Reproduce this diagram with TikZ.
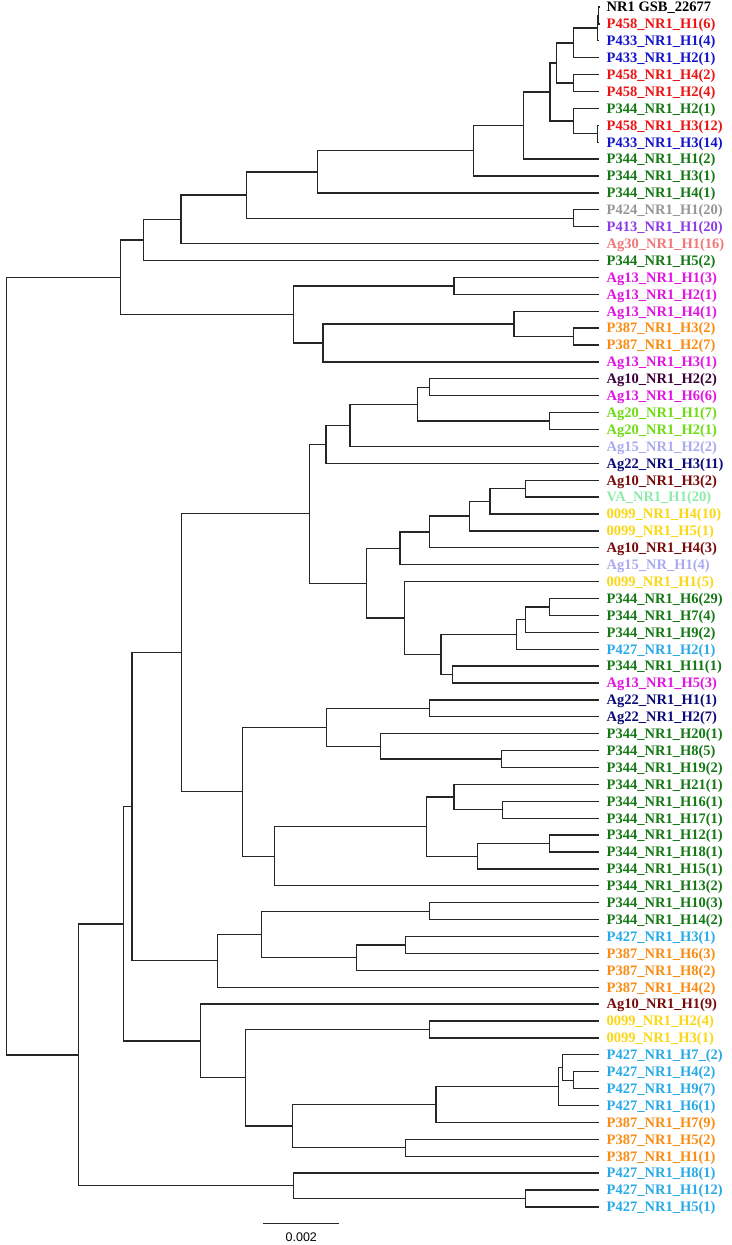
\documentclass[tikz,border=0pt]{standalone}
\usepackage{fontspec}
\setmainfont{Liberation Serif}
\newfontfamily\barfont{Liberation Sans}
\definecolor{cP458}{RGB}{235,20,20}
\definecolor{cP433}{RGB}{20,20,200}
\definecolor{cP344}{RGB}{20,120,20}
\definecolor{cP424}{RGB}{150,150,150}
\definecolor{cP413}{RGB}{140,60,230}
\definecolor{cAg30}{RGB}{240,120,120}
\definecolor{cAg13}{RGB}{225,20,225}
\definecolor{cP387}{RGB}{250,140,20}
\definecolor{cAg10b}{RGB}{60,0,60}
\definecolor{cAg10}{RGB}{120,10,10}
\definecolor{cAg20}{RGB}{110,220,20}
\definecolor{cAg15}{RGB}{170,170,240}
\definecolor{cAg22}{RGB}{10,10,120}
\definecolor{cVA}{RGB}{140,235,170}
\definecolor{c0099}{RGB}{250,215,20}
\definecolor{cP427}{RGB}{40,170,230}
\tikzset{
  branch/.style={line width=1.3pt, black!85},
  lab/.style={anchor=base west, inner sep=0pt, xshift=7.5pt, yshift=-4.8pt,
    font=\fontsize{14.5}{16}\selectfont\bfseries},
}
\begin{document}
\begin{tikzpicture}[x=1pt,y=-1pt]
\useasboundingbox (0,0) rectangle (731,1245);
% 葉
\path (599,7) coordinate (t1) node[lab,black] (l1) {NR1 GSB\_22677};
\path (599,23.9) coordinate (t2) node[lab,cP458] (l2) {P458\_NR1\_H1(6)};
\path (599,40.8) coordinate (t3) node[lab,cP433] (l3) {P433\_NR1\_H1(4)};
\path (599,57.7) coordinate (t4) node[lab,cP433] (l4) {P433\_NR1\_H2(1)};
\path (599,74.6) coordinate (t5) node[lab,cP458] (l5) {P458\_NR1\_H4(2)};
\path (599,91.5) coordinate (t6) node[lab,cP458] (l6) {P458\_NR1\_H2(4)};
\path (599,108.4) coordinate (t7) node[lab,cP344] (l7) {P344\_NR1\_H2(1)};
\path (599,125.3) coordinate (t8) node[lab,cP458] (l8) {P458\_NR1\_H3(12)};
\path (599,142.2) coordinate (t9) node[lab,cP433] (l9) {P433\_NR1\_H3(14)};
\path (599,159.1) coordinate (t10) node[lab,cP344] (l10) {P344\_NR1\_H1(2)};
\path (599,176) coordinate (t11) node[lab,cP344] (l11) {P344\_NR1\_H3(1)};
\path (599,192.9) coordinate (t12) node[lab,cP344] (l12) {P344\_NR1\_H4(1)};
\path (599,209.8) coordinate (t13) node[lab,cP424] (l13) {P424\_NR1\_H1(20)};
\path (599,226.7) coordinate (t14) node[lab,cP413] (l14) {P413\_NR1\_H1(20)};
\path (599,243.6) coordinate (t15) node[lab,cAg30] (l15) {Ag30\_NR1\_H1(16)};
\path (599,260.5) coordinate (t16) node[lab,cP344] (l16) {P344\_NR1\_H5(2)};
\path (599,277.4) coordinate (t17) node[lab,cAg13] (l17) {Ag13\_NR1\_H1(3)};
\path (599,294.3) coordinate (t18) node[lab,cAg13] (l18) {Ag13\_NR1\_H2(1)};
\path (599,311.2) coordinate (t19) node[lab,cAg13] (l19) {Ag13\_NR1\_H4(1)};
\path (599,328.1) coordinate (t20) node[lab,cP387] (l20) {P387\_NR1\_H3(2)};
\path (599,345) coordinate (t21) node[lab,cP387] (l21) {P387\_NR1\_H2(7)};
\path (599,361.9) coordinate (t22) node[lab,cAg13] (l22) {Ag13\_NR1\_H3(1)};
\path (599,378.8) coordinate (t23) node[lab,cAg10b] (l23) {Ag10\_NR1\_H2(2)};
\path (599,395.7) coordinate (t24) node[lab,cAg13] (l24) {Ag13\_NR1\_H6(6)};
\path (599,412.6) coordinate (t25) node[lab,cAg20] (l25) {Ag20\_NR1\_H1(7)};
\path (599,429.5) coordinate (t26) node[lab,cAg20] (l26) {Ag20\_NR1\_H2(1)};
\path (599,446.4) coordinate (t27) node[lab,cAg15] (l27) {Ag15\_NR1\_H2(2)};
\path (599,463.3) coordinate (t28) node[lab,cAg22] (l28) {Ag22\_NR1\_H3(11)};
\path (599,480.2) coordinate (t29) node[lab,cAg10] (l29) {Ag10\_NR1\_H3(2)};
\path (599,497.1) coordinate (t30) node[lab,cVA] (l30) {VA\_NR1\_H1(20)};
\path (599,514) coordinate (t31) node[lab,c0099] (l31) {0099\_NR1\_H4(10)};
\path (599,530.9) coordinate (t32) node[lab,c0099] (l32) {0099\_NR1\_H5(1)};
\path (599,547.8) coordinate (t33) node[lab,cAg10] (l33) {Ag10\_NR1\_H4(3)};
\path (599,564.7) coordinate (t34) node[lab,cAg15] (l34) {Ag15\_NR\_H1(4)};
\path (599,581.6) coordinate (t35) node[lab,c0099] (l35) {0099\_NR1\_H1(5)};
\path (599,598.5) coordinate (t36) node[lab,cP344] (l36) {P344\_NR1\_H6(29)};
\path (599,615.4) coordinate (t37) node[lab,cP344] (l37) {P344\_NR1\_H7(4)};
\path (599,632.3) coordinate (t38) node[lab,cP344] (l38) {P344\_NR1\_H9(2)};
\path (599,649.2) coordinate (t39) node[lab,cP427] (l39) {P427\_NR1\_H2(1)};
\path (599,666.1) coordinate (t40) node[lab,cP344] (l40) {P344\_NR1\_H11(1)};
\path (599,683) coordinate (t41) node[lab,cAg13] (l41) {Ag13\_NR1\_H5(3)};
\path (599,699.9) coordinate (t42) node[lab,cAg22] (l42) {Ag22\_NR1\_H1(1)};
\path (599,716.8) coordinate (t43) node[lab,cAg22] (l43) {Ag22\_NR1\_H2(7)};
\path (599,733.7) coordinate (t44) node[lab,cP344] (l44) {P344\_NR1\_H20(1)};
\path (599,750.6) coordinate (t45) node[lab,cP344] (l45) {P344\_NR1\_H8(5)};
\path (599,767.5) coordinate (t46) node[lab,cP344] (l46) {P344\_NR1\_H19(2)};
\path (599,784.4) coordinate (t47) node[lab,cP344] (l47) {P344\_NR1\_H21(1)};
\path (599,801.3) coordinate (t48) node[lab,cP344] (l48) {P344\_NR1\_H16(1)};
\path (599,818.2) coordinate (t49) node[lab,cP344] (l49) {P344\_NR1\_H17(1)};
\path (599,835.1) coordinate (t50) node[lab,cP344] (l50) {P344\_NR1\_H12(1)};
\path (599,852) coordinate (t51) node[lab,cP344] (l51) {P344\_NR1\_H18(1)};
\path (599,868.9) coordinate (t52) node[lab,cP344] (l52) {P344\_NR1\_H15(1)};
\path (599,885.8) coordinate (t53) node[lab,cP344] (l53) {P344\_NR1\_H13(2)};
\path (599,902.7) coordinate (t54) node[lab,cP344] (l54) {P344\_NR1\_H10(3)};
\path (599,919.6) coordinate (t55) node[lab,cP344] (l55) {P344\_NR1\_H14(2)};
\path (599,936.5) coordinate (t56) node[lab,cP427] (l56) {P427\_NR1\_H3(1)};
\path (599,953.4) coordinate (t57) node[lab,cP387] (l57) {P387\_NR1\_H6(3)};
\path (599,970.3) coordinate (t58) node[lab,cP387] (l58) {P387\_NR1\_H8(2)};
\path (599,987.2) coordinate (t59) node[lab,cP387] (l59) {P387\_NR1\_H4(2)};
\path (599,1004.1) coordinate (t60) node[lab,cAg10] (l60) {Ag10\_NR1\_H1(9)};
\path (599,1021) coordinate (t61) node[lab,c0099] (l61) {0099\_NR1\_H2(4)};
\path (599,1037.9) coordinate (t62) node[lab,c0099] (l62) {0099\_NR1\_H3(1)};
\path (599,1054.8) coordinate (t63) node[lab,cP427] (l63) {P427\_NR1\_H7\_(2)};
\path (599,1071.7) coordinate (t64) node[lab,cP427] (l64) {P427\_NR1\_H4(2)};
\path (599,1088.6) coordinate (t65) node[lab,cP427] (l65) {P427\_NR1\_H9(7)};
\path (599,1105.5) coordinate (t66) node[lab,cP427] (l66) {P427\_NR1\_H6(1)};
\path (599,1122.4) coordinate (t67) node[lab,cP387] (l67) {P387\_NR1\_H7(9)};
\path (599,1139.3) coordinate (t68) node[lab,cP387] (l68) {P387\_NR1\_H5(2)};
\path (599,1156.2) coordinate (t69) node[lab,cP387] (l69) {P387\_NR1\_H1(1)};
\path (599,1173.1) coordinate (t70) node[lab,cP427] (l70) {P427\_NR1\_H8(1)};
\path (599,1190) coordinate (t71) node[lab,cP427] (l71) {P427\_NR1\_H1(12)};
\path (599,1206.9) coordinate (t72) node[lab,cP427] (l72) {P427\_NR1\_H5(1)};

% 分岐点
\coordinate (n1to2) at (598.5,15.45);
\coordinate (n1to3) at (597.7,28.1);
\coordinate (n1to4) at (573.3,42.9);
\coordinate (n5to6) at (573.3,83.05);
\coordinate (n1to6) at (556.7,63);
\coordinate (n8to9) at (597.7,133.75);
\coordinate (n7to9) at (573.3,121.1);
\coordinate (n1to9) at (550,92);
\coordinate (n1to10) at (523.3,125.6);
\coordinate (n1to11) at (473.3,150.8);
\coordinate (n1to12) at (317.7,171.85);
\coordinate (n13to14) at (573.3,218.25);
\coordinate (n1to14) at (246.7,195.05);
\coordinate (n1to15) at (181,219.3);
\coordinate (n1to16) at (143.3,239.9);
\coordinate (n17to18) at (454,285.85);
\coordinate (n20to21) at (573.3,336.55);
\coordinate (n19to21) at (514,323.9);
\coordinate (n19to22) at (323,342.9);
\coordinate (n17to22) at (293.3,314.4);
\coordinate (n1to22) at (120.7,277.15);
\coordinate (n23to24) at (429.3,387.25);
\coordinate (n25to26) at (549.7,421.05);
\coordinate (n23to26) at (417.3,404.15);
\coordinate (n23to27) at (350,425.3);
\coordinate (n23to28) at (326,444.3);
\coordinate (n29to30) at (525.7,488.65);
\coordinate (n29to31) at (490,501.3);
\coordinate (n29to32) at (469.3,516.1);
\coordinate (n29to33) at (429.7,531.95);
\coordinate (n29to34) at (400,548.3);
\coordinate (n36to37) at (549.7,606.95);
\coordinate (n36to38) at (525.7,619.6);
\coordinate (n36to39) at (516.7,634.4);
\coordinate (n40to41) at (452.7,674.55);
\coordinate (n36to41) at (441,654.5);
\coordinate (n35to41) at (404.3,618.05);
\coordinate (n29to41) at (366.7,583.2);
\coordinate (n23to41) at (309.3,513.75);
\coordinate (n42to43) at (429.3,708.35);
\coordinate (n45to46) at (501.7,759.05);
\coordinate (n44to46) at (380.7,746.4);
\coordinate (n42to46) at (326.7,727.4);
\coordinate (n48to49) at (502.7,809.75);
\coordinate (n47to49) at (454,797.1);
\coordinate (n50to51) at (549.7,843.55);
\coordinate (n50to52) at (477.7,856.2);
\coordinate (n47to52) at (426.7,826.65);
\coordinate (n47to53) at (274.3,856.2);
\coordinate (n42to53) at (242.3,791.8);
\coordinate (n23to53) at (181.7,652.8);
\coordinate (n54to55) at (429.3,911.15);
\coordinate (n56to57) at (405.7,944.95);
\coordinate (n56to58) at (356.7,957.6);
\coordinate (n54to58) at (261.7,934.4);
\coordinate (n54to59) at (217.7,960.8);
\coordinate (n23to59) at (132,806.8);
\coordinate (n61to62) at (429.3,1029.45);
\coordinate (n64to65) at (573.3,1080.15);
\coordinate (n63to65) at (562.3,1067.5);
\coordinate (n63to66) at (558.3,1086.5);
\coordinate (n63to67) at (436,1104.45);
\coordinate (n68to69) at (405.7,1147.75);
\coordinate (n63to69) at (292.7,1126.1);
\coordinate (n61to69) at (245.7,1077.8);
\coordinate (n60to69) at (200.7,1040.95);
\coordinate (n23to69) at (123.3,923.9);
\coordinate (n71to72) at (525.7,1198.45);
\coordinate (n70to72) at (293.3,1185.8);
\coordinate (n23to72) at (78.3,1054.85);
\coordinate (root) at (6.7,666);

% 枝
\draw[branch] (t1) -| (n1to2) |- (t2);
\draw[branch] (n1to2) -| (n1to3) |- (t3);
\draw[branch] (n1to3) -| (n1to4) |- (t4);
\draw[branch] (t5) -| (n5to6) |- (t6);
\draw[branch] (n1to4) -| (n1to6) |- (n5to6);
\draw[branch] (t8) -| (n8to9) |- (t9);
\draw[branch] (t7) -| (n7to9) |- (n8to9);
\draw[branch] (n1to6) -| (n1to9) |- (n7to9);
\draw[branch] (n1to9) -| (n1to10) |- (t10);
\draw[branch] (n1to10) -| (n1to11) |- (t11);
\draw[branch] (n1to11) -| (n1to12) |- (t12);
\draw[branch] (t13) -| (n13to14) |- (t14);
\draw[branch] (n1to12) -| (n1to14) |- (n13to14);
\draw[branch] (n1to14) -| (n1to15) |- (t15);
\draw[branch] (n1to15) -| (n1to16) |- (t16);
\draw[branch] (t17) -| (n17to18) |- (t18);
\draw[branch] (t20) -| (n20to21) |- (t21);
\draw[branch] (t19) -| (n19to21) |- (n20to21);
\draw[branch] (n19to21) -| (n19to22) |- (t22);
\draw[branch] (n17to18) -| (n17to22) |- (n19to22);
\draw[branch] (n1to16) -| (n1to22) |- (n17to22);
\draw[branch] (t23) -| (n23to24) |- (t24);
\draw[branch] (t25) -| (n25to26) |- (t26);
\draw[branch] (n23to24) -| (n23to26) |- (n25to26);
\draw[branch] (n23to26) -| (n23to27) |- (t27);
\draw[branch] (n23to27) -| (n23to28) |- (t28);
\draw[branch] (t29) -| (n29to30) |- (t30);
\draw[branch] (n29to30) -| (n29to31) |- (t31);
\draw[branch] (n29to31) -| (n29to32) |- (t32);
\draw[branch] (n29to32) -| (n29to33) |- (t33);
\draw[branch] (n29to33) -| (n29to34) |- (t34);
\draw[branch] (t36) -| (n36to37) |- (t37);
\draw[branch] (n36to37) -| (n36to38) |- (t38);
\draw[branch] (n36to38) -| (n36to39) |- (t39);
\draw[branch] (t40) -| (n40to41) |- (t41);
\draw[branch] (n36to39) -| (n36to41) |- (n40to41);
\draw[branch] (t35) -| (n35to41) |- (n36to41);
\draw[branch] (n29to34) -| (n29to41) |- (n35to41);
\draw[branch] (n23to28) -| (n23to41) |- (n29to41);
\draw[branch] (t42) -| (n42to43) |- (t43);
\draw[branch] (t45) -| (n45to46) |- (t46);
\draw[branch] (t44) -| (n44to46) |- (n45to46);
\draw[branch] (n42to43) -| (n42to46) |- (n44to46);
\draw[branch] (t48) -| (n48to49) |- (t49);
\draw[branch] (t47) -| (n47to49) |- (n48to49);
\draw[branch] (t50) -| (n50to51) |- (t51);
\draw[branch] (n50to51) -| (n50to52) |- (t52);
\draw[branch] (n47to49) -| (n47to52) |- (n50to52);
\draw[branch] (n47to52) -| (n47to53) |- (t53);
\draw[branch] (n42to46) -| (n42to53) |- (n47to53);
\draw[branch] (n23to41) -| (n23to53) |- (n42to53);
\draw[branch] (t54) -| (n54to55) |- (t55);
\draw[branch] (t56) -| (n56to57) |- (t57);
\draw[branch] (n56to57) -| (n56to58) |- (t58);
\draw[branch] (n54to55) -| (n54to58) |- (n56to58);
\draw[branch] (n54to58) -| (n54to59) |- (t59);
\draw[branch] (n23to53) -| (n23to59) |- (n54to59);
\draw[branch] (t61) -| (n61to62) |- (t62);
\draw[branch] (t64) -| (n64to65) |- (t65);
\draw[branch] (t63) -| (n63to65) |- (n64to65);
\draw[branch] (n63to65) -| (n63to66) |- (t66);
\draw[branch] (n63to66) -| (n63to67) |- (t67);
\draw[branch] (t68) -| (n68to69) |- (t69);
\draw[branch] (n63to67) -| (n63to69) |- (n68to69);
\draw[branch] (n61to62) -| (n61to69) |- (n63to69);
\draw[branch] (t60) -| (n60to69) |- (n61to69);
\draw[branch] (n23to59) -| (n23to69) |- (n60to69);
\draw[branch] (t71) -| (n71to72) |- (t72);
\draw[branch] (t70) -| (n70to72) |- (n71to72);
\draw[branch] (n23to69) -| (n23to72) |- (n70to72);
\draw[branch] (n1to22) -| (root) |- (n23to72);

% スケールバー
\coordinate (bar1) at (263.3,1223.3);
\coordinate (bar2) at (339.3,1223.3);
\draw[branch] (bar1) -- (bar2);
\node[anchor=base, inner sep=0pt, font=\barfont\fontsize{12.5}{14}\selectfont] (barlab) at (301.3,1241.5) {0.002};
\end{tikzpicture}
\end{document}
